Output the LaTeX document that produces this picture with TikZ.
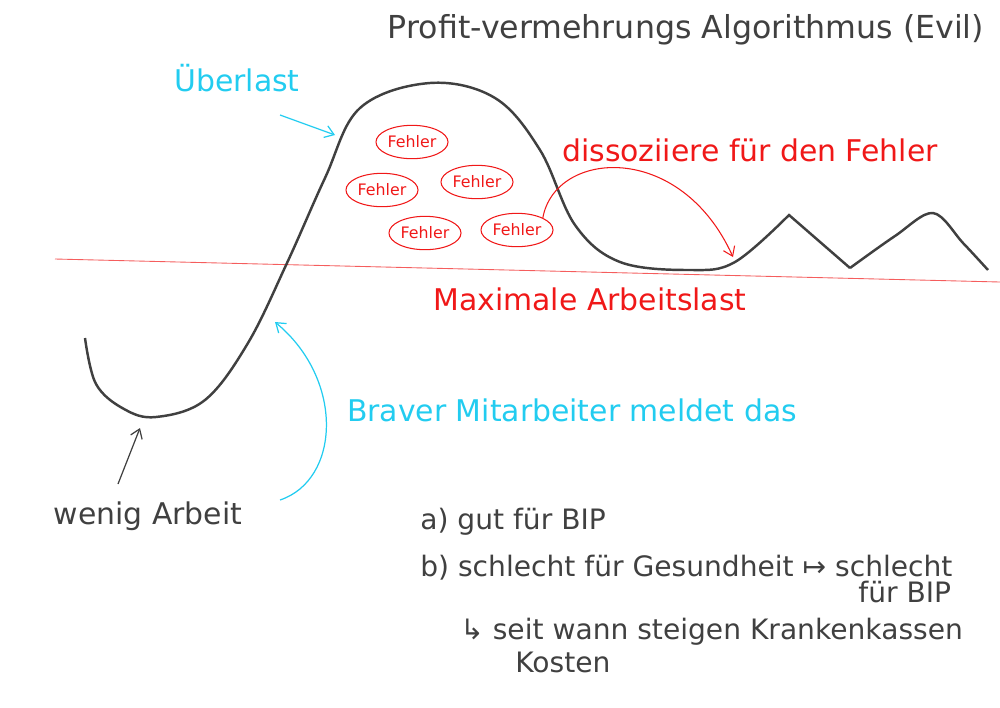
\documentclass[tikz,border=0pt]{standalone}
\usepackage{fontspec}
\setmainfont{DejaVu Sans}
\usetikzlibrary{arrows.meta,shapes.geometric}
\definecolor{pen}{HTML}{404040}
\definecolor{redpen}{HTML}{F01818}
\definecolor{cyanpen}{HTML}{22CCF0}

\begin{document}
\begin{tikzpicture}[x=0.02cm, y=-0.02cm,
            every node/.style = {inner sep=0pt},
            hand/.style = {font=\fontsize{17}{20}\selectfont, text=pen},
            note/.style = {font=\fontsize{16}{19}\selectfont, text=pen, anchor=west},
            fehler/.style = {draw=redpen, ellipse, minimum width=41pt, minimum height=19pt,
                text=redpen, font=\fontsize{9}{10}\selectfont, line width=0.6pt},
            tip/.style = {-{Straight Barb[length=5pt,width=7pt]}, line width=0.7pt}
            ]
            \useasboundingbox (0,0) rectangle (1000,707);
            % title
            \node[hand, font=\fontsize{18}{21}\selectfont] (title) at (686,30) {Profit-vermehrungs Algorithmus (Evil)};
            % maximum line
            \coordinate (maxL) at (55,259);
            \coordinate (maxR) at (1000,282);
            \draw[redpen!70, line width=0.5pt] (maxL) -- (maxR);
            \node[hand, text=redpen] (maxlast) at (590,299) {Maximale Arbeitslast};
            % workload curve
            \draw[pen, line width=1.4pt]
                plot[smooth, tension=0.6] coordinates {(85,338) (96,384) (124,409) (156,417) (205,400)
                (248,343) (287,263) (325,178) (360,108) (430,83) (495,98)
                (540,150) (575,225) (620,262) (690,270) (735,262) (789,215)}
                -- (850,268)
                plot[smooth, tension=0.55] coordinates {(850,268) (895,236) (933,213) (963,243) (988,270)};
            % errors
            \node[fehler] (f1) at (412,142) {Fehler};
            \node[fehler] (f2) at (382,190) {Fehler};
            \node[fehler] (f3) at (477,182) {Fehler};
            \node[fehler] (f4) at (425,233) {Fehler};
            \node[fehler] (f5) at (517,230) {Fehler};
            \coordinate (valley) at (733,257);
            \draw[redpen, tip, line width=0.6pt] (f5.north east) .. controls (555,150) and (680,140) .. (valley);
            \node[hand, text=redpen] (dissoc) at (750,150) {dissoziiere für den Fehler};
            % overload
            \node[hand, text=cyanpen] (ueber) at (237,78) {Überlast};
            \coordinate (peakL) at (335,135);
            \draw[cyanpen, tip] (280,115) -- (peakL);
            % reporting employee
            \node[hand, text=cyanpen] (brav) at (572,410) {Braver Mitarbeiter meldet das};
            \coordinate (cross) at (275,322);
            \coordinate (bravStart) at (280,500);
            \draw[cyanpen, tip] (bravStart) .. controls (340,480) and (345,380) .. (cross);
            % little work
            \node[hand] (wenig) at (148,516) {wenig Arbeit};
            \coordinate (bottom) at (140,428);
            \draw[pen, tip] (118,484) -- (bottom);
            % notes
            \node[note] (na) at (420,522) {a) gut für BIP};
            \node[note] (nb) at (420,568) {b) schlecht für Gesundheit ↦ schlecht};
            \node[note] (nb2) at (858,592) {für BIP};
            \node[note] (nc) at (460,632) {↳ seit wann steigen Krankenkassen};
            \node[note] (nc2) at (515,662) {Kosten};
        \end{tikzpicture}
\end{document}
